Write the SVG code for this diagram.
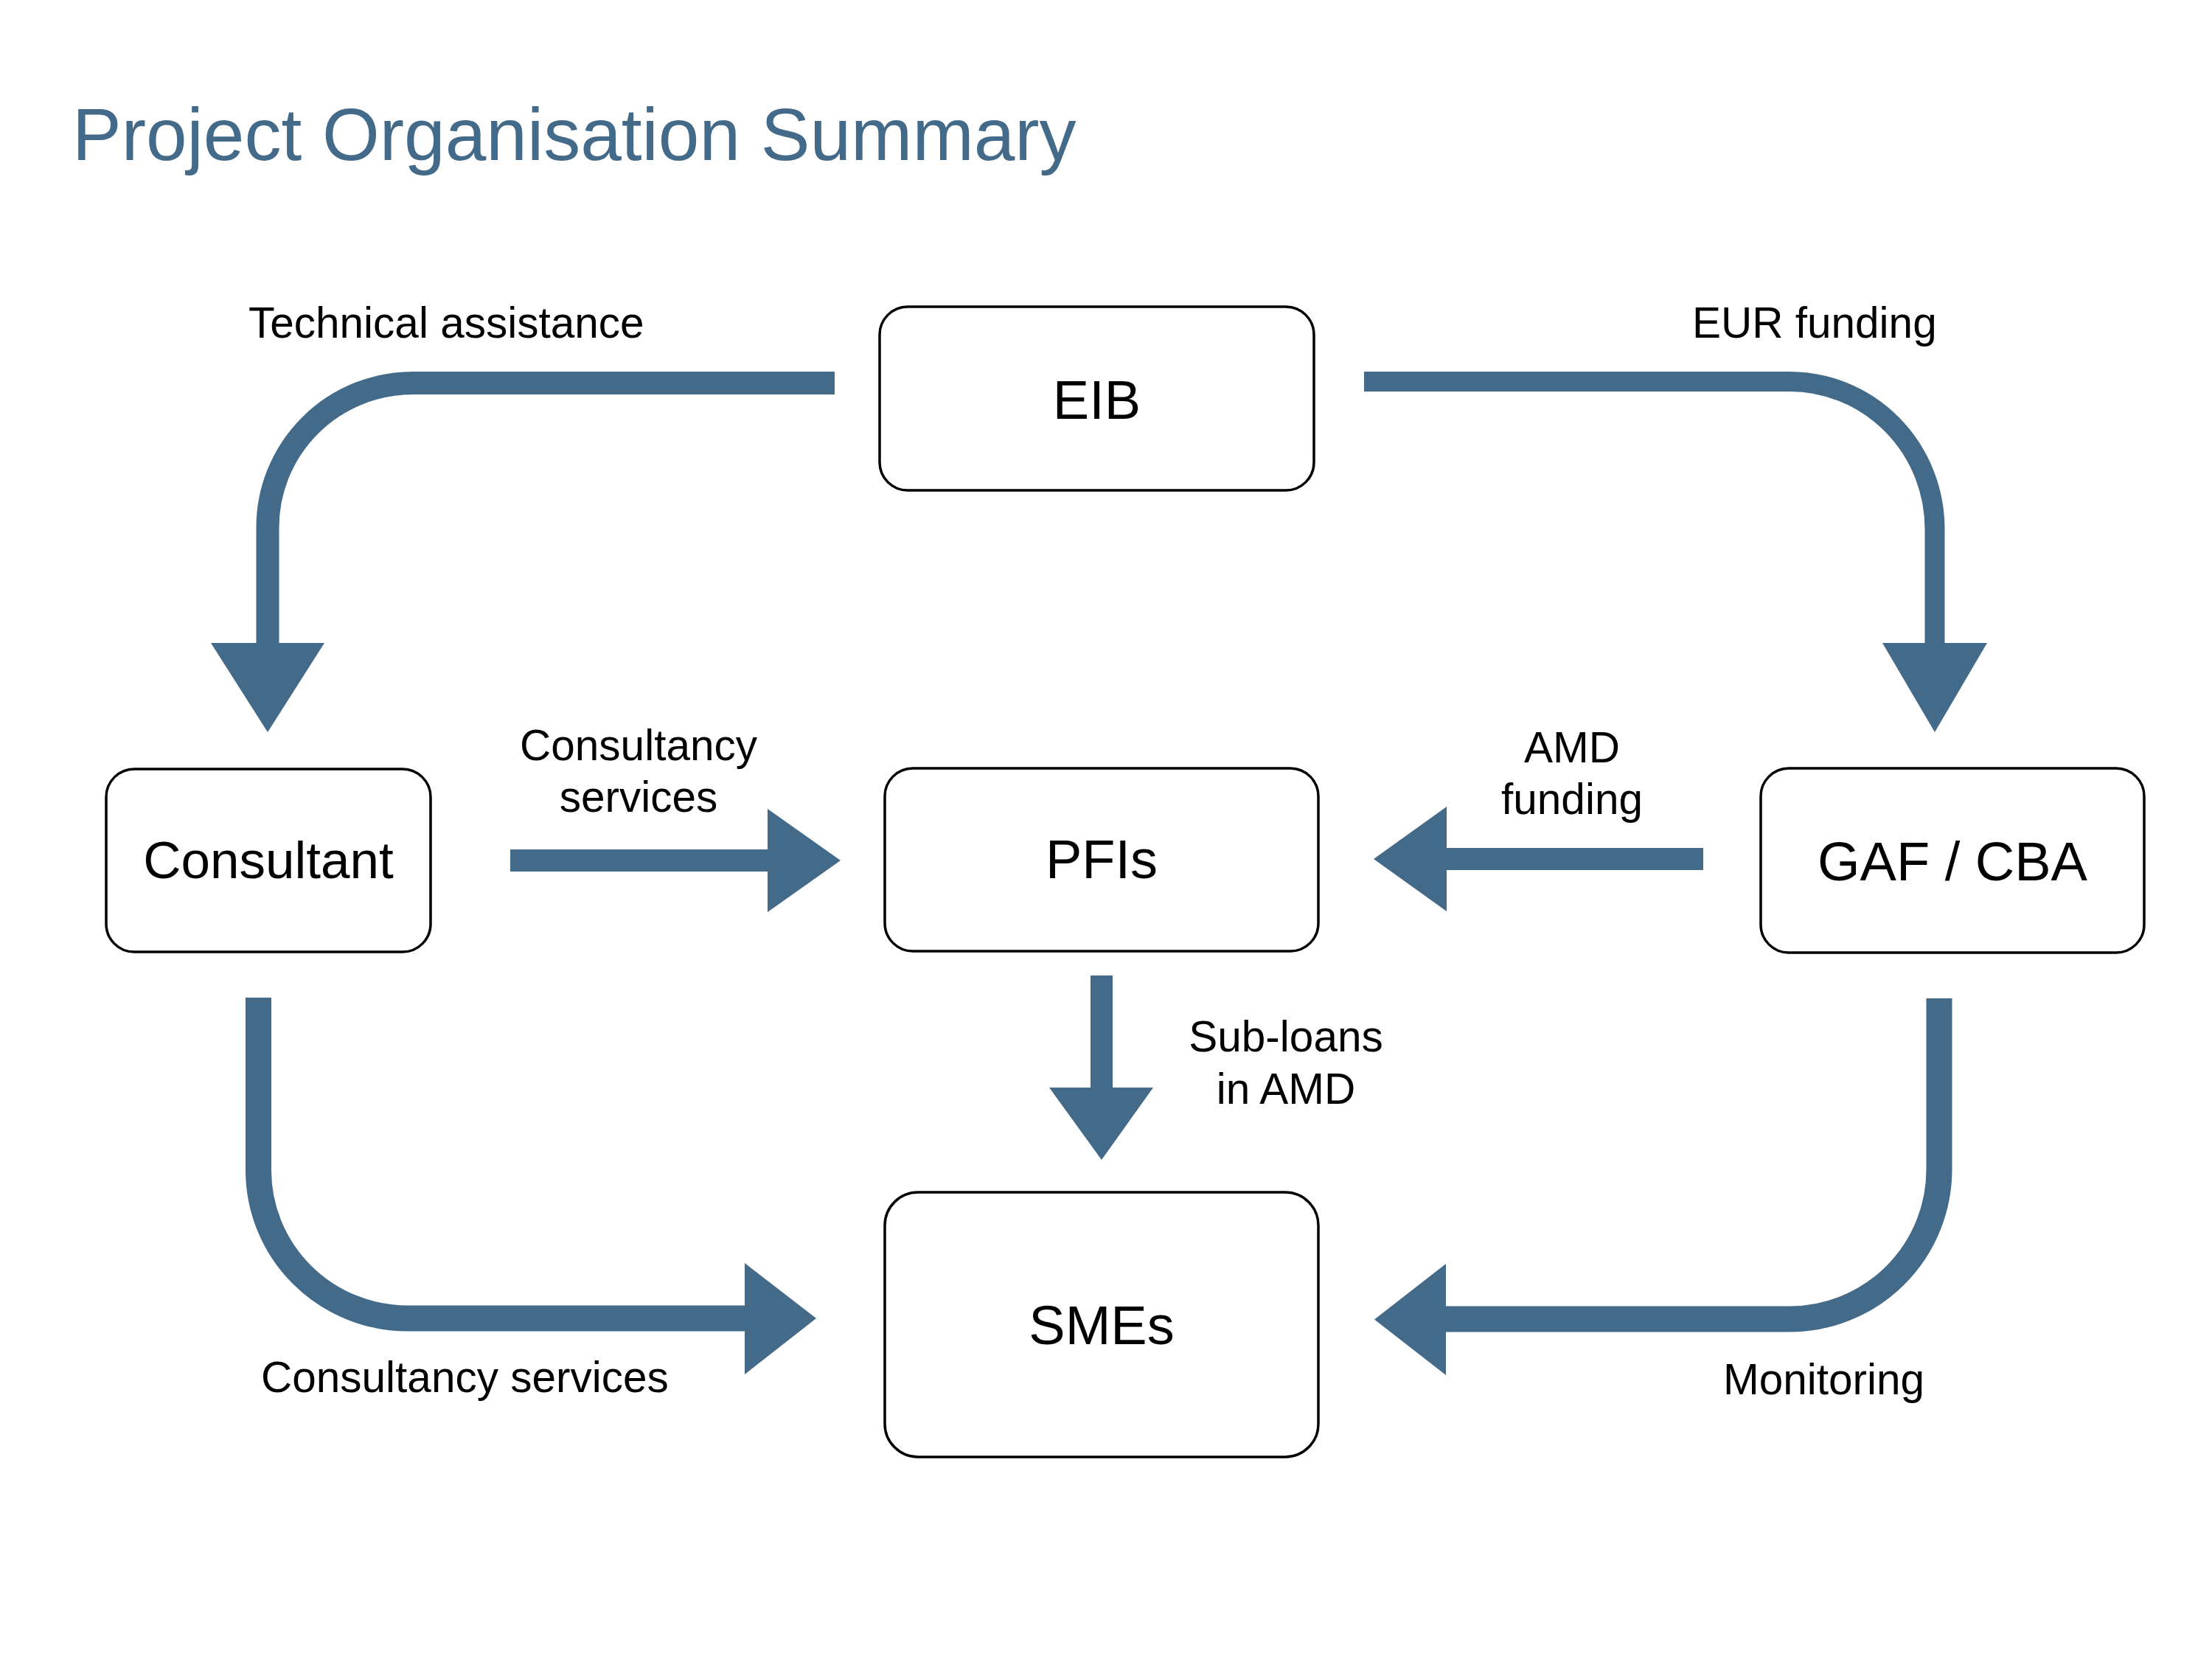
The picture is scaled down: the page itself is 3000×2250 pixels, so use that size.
<svg xmlns="http://www.w3.org/2000/svg" width="3000" height="2250" viewBox="0 0 3000 2250">
<defs>
<style>
.title{font-family:"Liberation Sans",Arial,sans-serif;font-size:100px;fill:#446a8a}
.box{fill:#ffffff;stroke:#000000;stroke-width:3.5}
.node{font-family:"Liberation Sans",Arial,sans-serif;font-size:74px;fill:#000000;text-anchor:middle}
.lbl{font-family:"Liberation Sans",Arial,sans-serif;font-size:58.5px;fill:#000000}
.mid{text-anchor:middle}
.shaft{fill:none;stroke:#446a8a;stroke-linecap:butt;stroke-linejoin:miter}
.head{fill:#446a8a;stroke:none}
</style>
</defs>
<rect x="0" y="0" width="3000" height="2250" fill="#ffffff"/>
<text class="title" x="98" y="217">Project Organisation Summary</text>

<g id="connectors">
  <g id="edge-eib-consultant">
    <path class="shaft" stroke-width="31" d="M1132,519.5 H560 A197,196 0 0 0 363,715.5 V873"/>
    <polygon class="head" points="286,872 440,872 363,993"/>
  </g>
  <g id="edge-eib-gaf">
    <path class="shaft" stroke-width="27" d="M1850,517.5 H2427 A197,200 0 0 1 2624,717.5 V873"/>
    <polygon class="head" points="2553,872 2695,872 2624,993"/>
  </g>
  <g id="edge-consultant-pfis">
    <path class="shaft" stroke-width="30" d="M692,1167 H1042"/>
    <polygon class="head" points="1041,1097 1041,1237 1140,1167"/>
  </g>
  <g id="edge-gaf-pfis">
    <path class="shaft" stroke-width="30" d="M2310,1165 H1961"/>
    <polygon class="head" points="1962,1094 1962,1236 1863,1165"/>
  </g>
  <g id="edge-pfis-smes">
    <path class="shaft" stroke-width="30" d="M1494,1323 V1476"/>
    <polygon class="head" points="1423,1475 1564,1475 1494,1573"/>
  </g>
  <g id="edge-consultant-smes">
    <path class="shaft" stroke-width="35" d="M350.5,1353 V1587 A202.5,201 0 0 0 553,1788 H1011"/>
    <polygon class="head" points="1010,1713 1010,1864 1107,1788"/>
  </g>
  <g id="edge-gaf-smes">
    <path class="shaft" stroke-width="35" d="M2630,1354 V1586 A203,203 0 0 1 2427,1789 H1960"/>
    <polygon class="head" points="1961,1714 1961,1865 1864,1789.5"/>
  </g>
</g>

<g id="labels">
  <text class="lbl" x="337" y="458">Technical assistance</text>
  <text class="lbl" x="2295" y="458">EUR funding</text>
  <text class="lbl mid" x="866" y="1031">Consultancy</text>
  <text class="lbl mid" x="866" y="1101">services</text>
  <text class="lbl mid" x="2132" y="1034">AMD</text>
  <text class="lbl mid" x="2132" y="1104">funding</text>
  <text class="lbl mid" x="1744" y="1426">Sub-loans</text>
  <text class="lbl mid" x="1744" y="1497">in AMD</text>
  <text class="lbl" x="354" y="1888">Consultancy services</text>
  <text class="lbl" x="2337" y="1891">Monitoring</text>
</g>

<g id="node-eib">
  <rect class="box" x="1193" y="416" width="589" height="249" rx="38" ry="38"/>
  <text class="node" x="1487.5" y="568">EIB</text>
</g>
<g id="node-consultant">
  <rect class="box" x="144" y="1043" width="440" height="248" rx="38" ry="38"/>
  <text class="node" x="364" y="1191" style="font-size:71px">Consultant</text>
</g>
<g id="node-pfis">
  <rect class="box" x="1200" y="1042" width="588" height="248" rx="38" ry="38"/>
  <text class="node" x="1494" y="1191">PFIs</text>
</g>
<g id="node-gaf-cba">
  <rect class="box" x="2388" y="1042" width="520" height="250" rx="38" ry="38"/>
  <text class="node" x="2648" y="1194">GAF / CBA</text>
</g>
<g id="node-smes">
  <rect class="box" x="1200" y="1617" width="588" height="359" rx="45" ry="45"/>
  <text class="node" x="1494" y="1823">SMEs</text>
</g>
</svg>
